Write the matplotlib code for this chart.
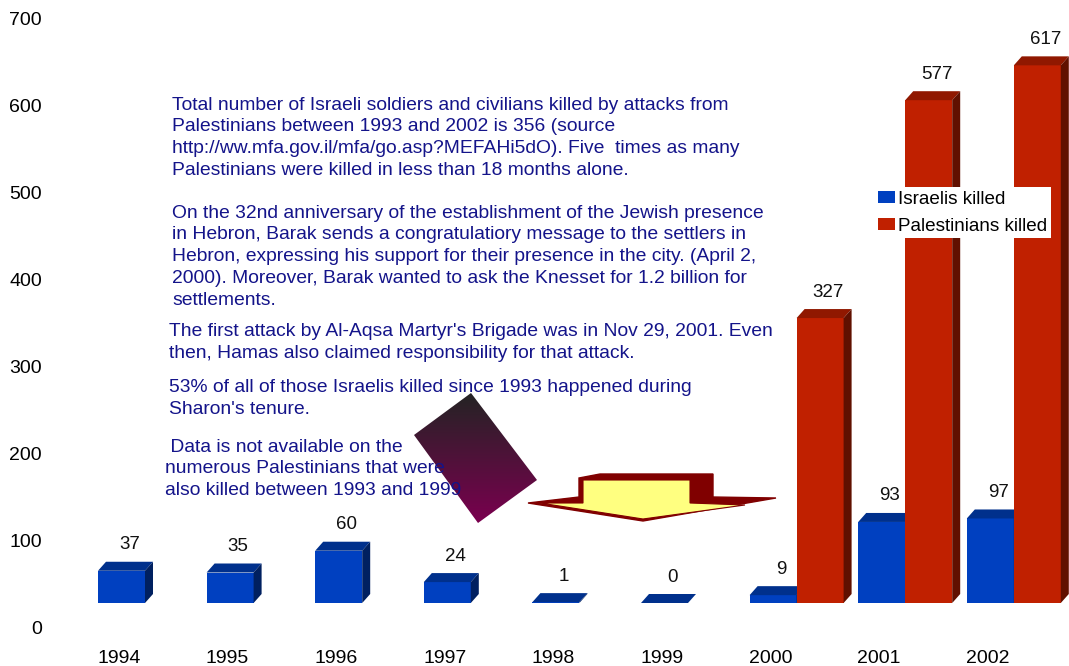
import matplotlib.pyplot as plt
import numpy as np
from matplotlib.patches import Polygon, Patch

plt.rcParams['font.family'] = ['Liberation Sans', 'DejaVu Sans']

# Data
years = ['1994', '1995', '1996', '1997', '1998', '1999', '2000', '2001', '2002']
israelis = [37, 35, 60, 24, 1, 0, 9, 93, 97]
palestinians = [None, None, None, None, None, None, 327, 577, 617]

notes = [
    (172, 105, ["Total number of Israeli soldiers and civilians killed by attacks from",
                "Palestinians between 1993 and 2002 is 356 (source",
                "http://ww.mfa.gov.il/mfa/go.asp?MEFAHi5dO). Five  times as many",
                "Palestinians were killed in less than 18 months alone."]),
    (172, 213, ["On the 32nd anniversary of the establishment of the Jewish presence",
                "in Hebron, Barak sends a congratulatiory message to the settlers in",
                "Hebron, expressing his support for their presence in the city. (April 2,",
                "2000). Moreover, Barak wanted to ask the Knesset for 1.2 billion for",
                "settlements."]),
    (169, 332, ["The first attack by Al-Aqsa Martyr's Brigade was in Nov 29, 2001. Even",
                "then, Hamas also claimed responsibility for that attack."]),
    (169, 388, ["53% of all of those Israelis killed since 1993 happened during",
                "Sharon's tenure."]),
    (165, 447, [" Data is not available on the",
                "numerous Palestinians that were",
                "also killed between 1993 and 1999"]),
]

# Colours
blue = ['#0040c0', '#00308c', '#002060']   # front, top, side
red = ['#c02000', '#901800', '#601000']
note_color = '#14148a'

W, H = 1069, 666
fig = plt.figure(figsize=(W / 100, H / 100), dpi=100)

# pixel geometry of the chart area
px_per_val = 87.14 / 100
px_per_cat = 108.6
left_px, zero_px, first_cat_px = 60, 628, 119

ax = fig.add_axes([left_px / W, (H - zero_px) / H, 1 - left_px / W, zero_px / H])
ax.set_xlim(-(first_cat_px - left_px) / px_per_cat, (W - first_cat_px) / px_per_cat)
ax.set_ylim(0, zero_px / px_per_val)
for s in ax.spines.values():
    s.set_visible(False)
ax.set_yticks(range(0, 701, 100))
ax.set_xticks(range(len(years)))
ax.set_xticklabels(years)
ax.tick_params(axis='both', length=0, labelsize=14, colors='black')
ax.tick_params(axis='y', pad=13)
ax.tick_params(axis='x', pad=16)
for lab in ax.get_yticklabels():
    lab.set_horizontalalignment('right')

# 3D look
floor = 25 / px_per_val
bar_w = 47 / px_per_cat
off = -21 / px_per_cat
dx = 8 / px_per_cat
dy = 9 / px_per_val


def draw_bar(x0, v, cols, z):
    b = floor
    t = floor + v
    ax.bar(x0, v, width=bar_w, bottom=b, align='edge', color=cols[0], zorder=z, linewidth=0)
    top = [(x0, t), (x0 + bar_w, t), (x0 + bar_w + dx, t + dy), (x0 + dx, t + dy)]
    side = [(x0 + bar_w, b), (x0 + bar_w + dx, b + dy), (x0 + bar_w + dx, t + dy), (x0 + bar_w, t)]
    ax.add_patch(Polygon(top, closed=True, facecolor=cols[1], edgecolor='none', zorder=z))
    ax.add_patch(Polygon(side, closed=True, facecolor=cols[2], edgecolor='none', zorder=z))
    ax.text(x0 + bar_w / 2 + dx, t + dy + 17 / px_per_val, str(v), ha='center', va='center',
            fontsize=13.5, color='#111111', zorder=z + 1)


for i, v in enumerate(israelis):
    draw_bar(i + off, v, blue, 2)
for i, v in enumerate(palestinians):
    if v is not None:
        draw_bar(i + off + bar_w, v, red, 3)

handles = [Patch(facecolor=blue[0], label='Israelis killed'),
           Patch(facecolor=red[0], label='Palestinians killed')]
leg = ax.legend(handles=handles, loc='upper left', bbox_to_anchor=(874 / W, (H - 187) / H),
                bbox_transform=fig.transFigure, frameon=True, fontsize=13.6,
                handlelength=0.9, handleheight=0.58, handletextpad=0.15,
                labelspacing=0.52, borderpad=0.2, borderaxespad=0, fancybox=False)
leg.get_frame().set_facecolor('white')
leg.get_frame().set_edgecolor('none')
leg.get_frame().set_alpha(1)
leg.set_zorder(10)

# overlay in pixel coordinates for the notes and shapes
ov = fig.add_axes([0, 0, 1, 1], zorder=5)
ov.set_xlim(0, W)
ov.set_ylim(H, 0)
ov.axis('off')
ov.patch.set_alpha(0)

# tilted gradient card
card = Polygon([(471, 393), (537, 480), (478, 523), (414, 435)], closed=True,
               facecolor='none', edgecolor='none')
ov.add_patch(card)
grad = np.linspace(0, 1, 256).reshape(-1, 1)
c0 = np.array([0.14, 0.14, 0.14])
c1 = np.array([0.48, 0.0, 0.31])
img = c0 + (c1 - c0) * grad[..., None]
img = np.repeat(img, 2, axis=1)
im = ov.imshow(img, extent=(414, 537, 523, 393), aspect='auto', zorder=1)
im.set_clip_path(card)

# arrow shape
shadow = [(528, 503), (579, 497), (579, 478), (600, 474), (713, 474), (713, 497),
          (776, 498), (643, 521)]
ov.add_patch(Polygon(shadow, closed=True, facecolor='#800000', edgecolor='#800000', zorder=2))
arrow = [(540, 503), (583, 503), (583, 480), (690, 480), (690, 503), (745, 505), (643, 519)]
ov.add_patch(Polygon(arrow, closed=True, facecolor='#ffff80', edgecolor='#800000',
                     linewidth=0.8, zorder=3))

line_h = 21.8
for x, y, lines in notes:
    for k, s in enumerate(lines):
        ov.text(x, y + k * line_h, s, ha='left', va='center', fontsize=13.9,
                color=note_color, zorder=4)

fig.savefig('out.png', dpi=100)
